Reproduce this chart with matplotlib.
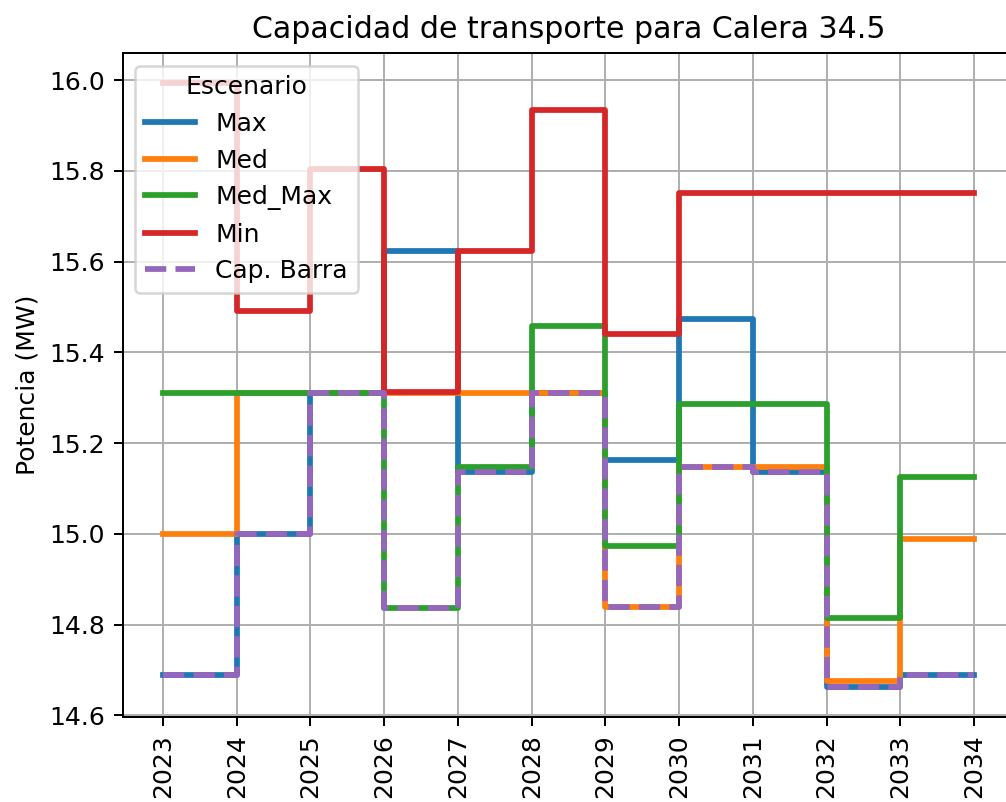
import matplotlib
matplotlib.use("Agg")
import matplotlib.pyplot as plt

years = [2023, 2024, 2025, 2026, 2027, 2028, 2029, 2030, 2031, 2032, 2033, 2034]
max_vals = [14.69, 15.00, 15.31, 15.624, 15.137, 15.31, 15.163, 15.474, 15.136, 14.663, 14.69, 14.69]
med_vals = [15.00, 15.31, 15.31, 15.31, 15.31, 15.31, 14.839, 15.148, 15.148, 14.675, 14.988, 14.988]
medmax_vals = [15.31, 15.31, 15.31, 14.837, 15.148, 15.459, 14.974, 15.287, 15.287, 14.815, 15.126, 15.126]
min_vals = [15.993, 15.492, 15.804, 15.313, 15.624, 15.934, 15.441, 15.752, 15.752, 15.752, 15.752, 15.752]
cap_vals = [14.69, 15.00, 15.31, 14.837, 15.137, 15.31, 14.839, 15.148, 15.136, 14.663, 14.69, 14.69]

series = [("Max", max_vals, "C0", "-"),
          ("Med", med_vals, "C1", "-"),
          ("Med_Max", medmax_vals, "C2", "-"),
          ("Min", min_vals, "C3", "-"),
          ("Cap. Barra", cap_vals, "C4", "--")]

W, H = 1006, 802
dpi = 180
fig = plt.figure(figsize=(W / dpi, H / dpi), dpi=dpi)
left, right, top, bottom = 122.5, 1014.5, 53, 717
ax = fig.add_axes([left / W, 1 - bottom / H, (right - left) / W, (bottom - top) / H])

for name, vals, color, ls in series:
    ax.step(years, vals, where="post", color=color, linestyle=ls, linewidth=2.3, label=name)

ax.set_xticks(years)
ax.set_xticklabels([str(y) for y in years], rotation=90)
ax.set_ylabel("Potencia (MW)")
ax.set_title("Capacidad de transporte para Calera 34.5", fontsize=12)
ax.grid(True)
ax.legend(title="Escenario", loc="upper left")

fig.savefig("out.png", dpi=dpi)
